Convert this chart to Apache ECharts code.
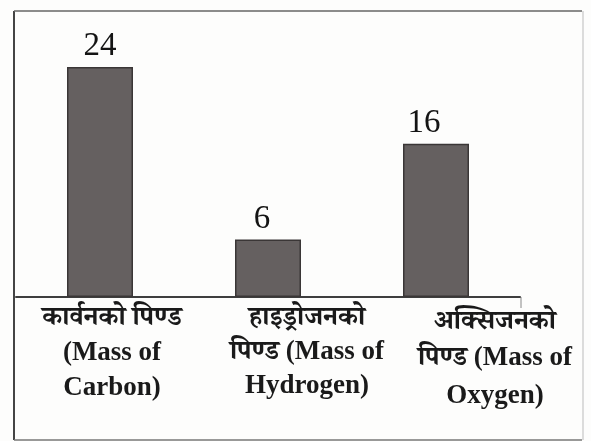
<!DOCTYPE html>
<html>
<head>
<meta charset="utf-8">
<script src="https://cdn.jsdelivr.net/npm/echarts@6/dist/echarts.min.js"></script>
<style>
  html, body { margin: 0; padding: 0; background: #fdfdfc; }
  #chart { width: 591px; height: 441px; }
</style>
</head>
<body>
<div id="chart"></div>
<script>
// ---- data ----
const categories = [
  ['कार्वनको पिण्ड', '(Mass of', 'Carbon)'],
  ['हाइड्रोजनको', 'पिण्ड (Mass of', 'Hydrogen)'],
  ['अक्सिजनको', 'पिण्ड (Mass of', 'Oxygen)']
];
const values = [24, 6, 16];

// ---- style ----
const serif = '"Liberation Serif", "Times New Roman", "Noto Serif Devanagari", "Noto Sans Devanagari", "Lohit Devanagari", serif';
const labelShiftX = [24, 78, 118];      // rich-text left padding (shifts text right by half)
const valueLabelOffset = [[0, 0], [-6, 0], [-12, 0]];
const richNames = ['a', 'b', 'c'];

const chart = echarts.init(document.getElementById('chart'), null, { renderer: 'canvas' });

const rich = {};
richNames.forEach((n, i) => {
  rich[n] = {
    fontFamily: serif, fontSize: 27, fontWeight: 'bold', color: '#1a1a1a',
    lineHeight: i === 2 ? 38 : (i === 1 ? 34 : 35),
    padding: [0, 0, 0, labelShiftX[i]]
  };
  rich[n + 'top'] = Object.assign({}, rich[n], { padding: [i === 2 ? 4 : 0, 0, 0, labelShiftX[i]] });
});

chart.setOption({
  backgroundColor: '#fdfdfc',
  animation: false,
  grid: { left: 16, right: 71, top: 67, bottom: 144 },
  xAxis: {
    type: 'category',
    data: categories.map(c => c.join('\n')),
    axisLine: { show: true, lineStyle: { color: '#3e3e3e', width: 2 } },
    axisTick: { show: false },
    axisLabel: {
      interval: 0,
      margin: 4,
      formatter: function (value, idx) {
        const n = richNames[idx];
        return value.split('\n').map((l, k) => '{' + (k === 0 ? n + 'top' : n) + '|' + l + '}').join('\n');
      },
      rich: rich
    }
  },
  yAxis: {
    type: 'value', min: 0, max: 24,
    show: false, splitLine: { show: false }
  },
  series: [{
    type: 'bar',
    barWidth: 66,
    data: values.map((v, i) => ({
      value: v,
      label: { offset: valueLabelOffset[i] }
    })),
    itemStyle: { color: '#656060', borderColor: '#3a3636', borderWidth: 1.5 },
    label: {
      show: true, position: 'top', distance: 4,
      fontFamily: serif, fontSize: 33, color: '#141414'
    }
  }],
  graphic: [
    { type: 'line', shape: { x1: 14, y1: 11, x2: 14, y2: 440 }, style: { stroke: '#444', lineWidth: 2 } },
    { type: 'line', shape: { x1: 14, y1: 11, x2: 582, y2: 11 }, style: { stroke: '#666', lineWidth: 1.5 } },
    { type: 'line', shape: { x1: 14, y1: 440, x2: 582, y2: 440 }, style: { stroke: '#777', lineWidth: 1.5 } },
    { type: 'line', shape: { x1: 583, y1: 11, x2: 583, y2: 440 }, style: { stroke: '#bbb', lineWidth: 1 } },
    { type: 'line', shape: { x1: 521, y1: 297, x2: 521, y2: 308 }, style: { stroke: '#888', lineWidth: 1 } }
  ]
});
</script>
</body>
</html>
